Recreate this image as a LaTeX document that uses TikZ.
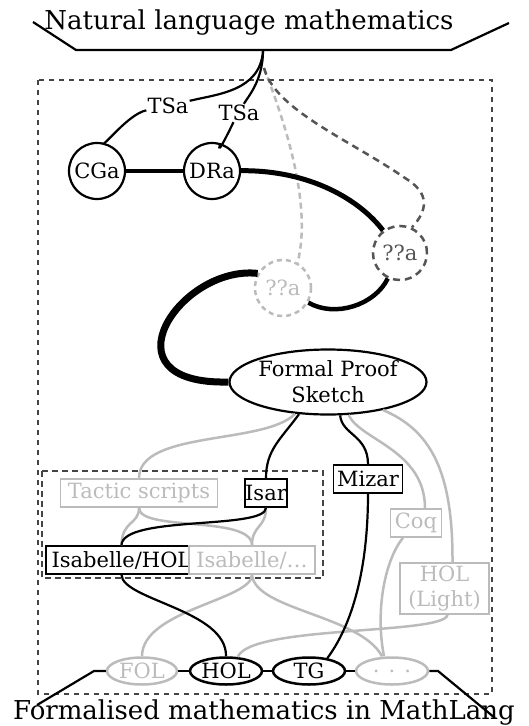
\documentclass[tikz,border=0pt]{standalone}
\usepackage{fontspec}
\setmainfont{DejaVu Serif}
\usetikzlibrary{shapes.geometric}
\definecolor{lg}{HTML}{BBBBBB}
\definecolor{dg}{HTML}{555555}
\definecolor{rg}{HTML}{444444}
\begin{document}
\begin{tikzpicture}[x=1pt,y=-1pt,
  every node/.style={font=\fontsize{21}{25}\selectfont},
  bigtext/.style={font=\fontsize{26}{30}\selectfont, inner sep=0},
  circ/.style={circle, draw, line width=2.2pt, minimum size=56pt, inner sep=0},
  lqstyle/.style={circle, draw=lg, text=lg, line width=2.5pt, dash pattern=on 5pt off 4pt, minimum size=56pt, inner sep=0},
  dqstyle/.style={circle, draw=dg, text=dg, line width=2.5pt, dash pattern=on 7pt off 5pt, minimum size=54pt, inner sep=0},
  lbl/.style={inner sep=1pt},
  box/.style={rectangle, draw, line width=1.5pt, inner sep=0, minimum height=28pt},
  gbox/.style={box, draw=lg, text=lg},
  ell/.style={ellipse, draw, line width=2.5pt, minimum width=70pt, minimum height=27pt, inner sep=0},
  gell/.style={ell, draw=lg, text=lg},
  conn/.style={line width=2.2pt},
  gconn/.style={line width=2.5pt, draw=lg},
]
\useasboundingbox (0,0) rectangle (529,726);

% frames
\draw[rg, line width=1.2pt, dash pattern=on 5pt off 5pt] (38,80) rectangle (492,694);
\draw[rg, line width=1.2pt, dash pattern=on 6pt off 4pt] (42,471) rectangle (323,578);

% top and bottom levels
\node[bigtext, anchor=base] (nlm) at (249,29.5) {Natural language mathematics};
\draw[line width=2.2pt] (33,22) -- (76,50) -- (451,50) -- (509,23);
\coordinate (hub) at (263,51);
\coordinate (dstart) at (264,68);

% upper nodes
\node[circ] (cga) at (97,171) {CGa};
\node[circ] (dra) at (212,171) {DRa};
\node[lbl] (tsa1) at (168,106) {TSa};
\node[lbl] (tsa2) at (239,113) {TSa};
\node[dqstyle] (dq) at (400,253) {??a};
\node[lqstyle] (lq) at (283,288) {??a};
\node[ellipse, draw, line width=2.2pt, minimum width=197pt, minimum height=65pt, inner sep=0, align=center, font=\fontsize{21}{26}\selectfont] (fps) at (328,382) {Formal Proof\\Sketch};

% lower nodes
\node[gbox, minimum width=157pt] (tactic) at (139,493) {Tactic scripts};
\node[box, minimum width=41pt] (isar) at (266,493) {Isar};
\node[box, minimum width=69pt] (mizar) at (368,479) {Mizar};
\node[gbox, minimum width=51pt] (coq) at (416,523) {Coq};
\node[box, minimum width=151pt] (isahol) at (121.5,560) {Isabelle/HOL};
\node[gbox, fill=white, minimum width=126pt] (isadots) at (252,560) {Isabelle/\ldots};
\node[gbox, minimum width=89pt, minimum height=51pt, align=center] (hollight) at (444.5,588.5) {HOL\\(Light)};

\node[gell] (fol) at (142,671) {FOL};
\node[ell, minimum width=72pt] (holE) at (226,671) {HOL};
\node[ell, minimum width=72pt] (tg) at (309,671) {TG};
\node[gell, minimum width=72pt] (dots) at (392,671) {.\hspace{9pt}.\hspace{9pt}.};

\node[bigtext, anchor=base] (flm) at (264,719) {Formalised mathematics in MathLang};

% translations from the top
\draw[conn] (hub) .. controls +(-3,40) and +(50,-12) .. (tsa1);
\draw[conn] (tsa1) .. controls +(-40,8) and +(5,-22) .. (cga);
\draw[conn] (hub) .. controls +(0,30) and +(8,-15) .. (tsa2);
\draw[conn] (tsa2) .. controls +(-6,10) and +(3,-10) .. (dra);
\draw[lg, line width=2.5pt, dash pattern=on 6pt off 4pt] (dstart) .. controls (284,120) and (312.5,203) .. (lq.60);
\draw[dg, line width=2.5pt, dash pattern=on 7pt off 5pt] (dstart) .. controls (275,110) and (350,140) .. (405,178) .. controls (430,193) and (428,210) .. (dq.65);

% thick path
\draw[line width=4pt] (cga) -- (dra);
\draw[line width=5pt] (dra) .. controls (310,170) and (360,200) .. (dq);
\draw[line width=4.5pt] (lq) .. controls (335,318) and (375,305) .. (dq);
\draw[line width=7pt] (lq.150) .. controls (180,265) and (100,385) .. (fps.west);

% from the sketch
\draw[gconn] (fps.224) .. controls (265,445) and (139,430) .. (tactic.north);
\draw[gconn] (fps.302) .. controls (360,440) and (425,450) .. ([xshift=9pt]coq.north);
\draw[gconn] (fps.333) .. controls (430,430) and (453,470) .. ([xshift=8pt]hollight.north);
\draw[conn] (fps.228) .. controls (280,440) and (266,450) .. (isar.north);
\draw[conn] (fps.290) .. controls (342,435) and (368,435) .. (mizar.north);

% to the systems
\draw[gconn] (tactic.south) .. controls (139,525) and (122,520) .. (isahol.north);
\draw[gconn] (tactic.south) .. controls (139,532) and (252,515) .. (isadots.north);
\draw[gconn] (isar.south) .. controls (266,528) and (252,525) .. (isadots.north);
\draw[conn] (isar.south) .. controls (266,530) and (122,515) .. (isahol.north);

% to the logics
\draw[gconn] (isadots.south) .. controls (252,600) and (142,610) .. (fol.north);
\draw[gconn] (isadots.south) .. controls (255,610) and (360,615) .. ([xshift=-10pt]dots.north);
\draw[gconn] ([xshift=-13pt]coq.south) .. controls (385,560) and (375,610) .. ([xshift=-8pt]dots.north);
\draw[gconn] ([xshift=3pt]hollight.south) .. controls (445,635) and (250,625) .. (holE.50);
\draw[conn] (isahol.south) .. controls (122,600) and (227,610) .. (holE.north);
\draw[conn] (mizar.south) .. controls (368,570) and (352,625) .. (tg.35);

% bottom level line
\draw[line width=2.2pt] (37,705) -- (94,671) -- (fol.west);
\draw[line width=2.2pt] (fol.east) -- (holE.west);
\draw[line width=2.2pt] (holE.east) -- (tg.west);
\draw[line width=2.2pt] (tg.east) -- (dots.west);
\draw[line width=2.2pt] (dots.east) -- (438,671) -- (495,718);
\end{tikzpicture}
\end{document}
